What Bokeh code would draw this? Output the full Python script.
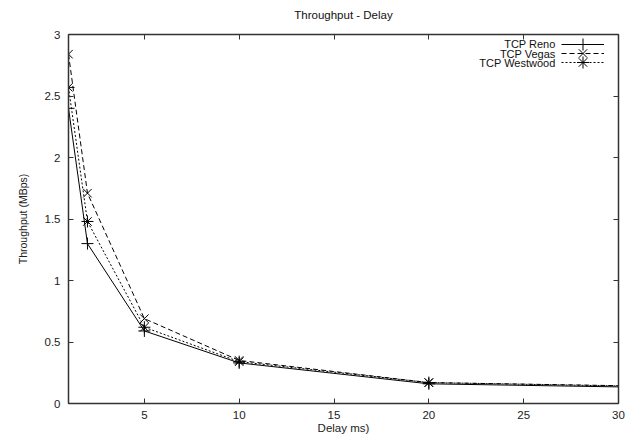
from bokeh.plotting import figure
from bokeh.models import (Range1d, FixedTicker, LinearAxis, Legend, LegendItem, Label)
from bokeh.embed import file_html
from bokeh.resources import INLINE

# ---- data ----
delay = [1, 2, 5, 10, 20, 40]
reno = [2.40, 1.30, 0.59, 0.33, 0.16, 0.11]
vegas = [2.84, 1.71, 0.69, 0.35, 0.17, 0.12]
westwood = [2.57, 1.48, 0.62, 0.34, 0.17, 0.115]
series_names = ["TCP Reno", "TCP Vegas", "TCP Westwood"]
x_ticks = [5, 10, 15, 20, 25, 30]
y_ticks = [0, 0.5, 1, 1.5, 2, 2.5, 3]
y_tick_labels = ["0", "0.5", "1", "1.5", "2", "2.5", "3"]
title_text = "Throughput - Delay"

FONT = "Liberation Sans"
FS = "11.5px"

p = figure(width=629, height=440, output_backend="svg", toolbar_location=None,
           x_range=Range1d(1, 30), y_range=Range1d(0, 3),
           min_border_left=68, min_border_right=11, min_border_top=34, min_border_bottom=37,
           title=title_text)
p.title.align = "center"
p.title.text_font = FONT
p.title.text_font_size = FS
p.title.text_font_style = "normal"
p.title.text_color = "#111111"
p.grid.visible = False
p.outline_line_color = "#222222"
p.outline_line_width = 1
p.background_fill_color = "white"
p.border_fill_color = "white"

def style_axis(ax, labels=True):
    ax.axis_line_color = "#333333"
    ax.axis_line_width = 1.5
    ax.major_tick_in = 5
    ax.major_tick_out = 0
    ax.minor_tick_line_color = None
    ax.major_tick_line_color = "#333333"
    ax.major_label_text_font = FONT
    ax.major_label_text_font_size = FS
    ax.major_label_text_color = "#222222"
    if not labels:
        ax.major_label_text_color = None
        ax.major_label_standoff = 0

xa = p.xaxis[0]
xa.ticker = FixedTicker(ticks=x_ticks)
style_axis(xa)
xa.major_label_standoff = 7
xa.axis_label = "Delay ms)"
xa.axis_label_text_font = FONT
xa.axis_label_text_font_size = FS
xa.axis_label_text_font_style = "normal"
xa.axis_label_standoff = 0
xa.axis_label_text_color = "#222222"

ya = p.yaxis[0]
ya.ticker = FixedTicker(ticks=y_ticks)
ya.major_label_overrides = {t: l for t, l in zip(y_ticks, y_tick_labels)}
style_axis(ya)
ya.major_label_standoff = 8
ya.axis_label = "Throughput (MBps)"
ya.axis_label_text_font = FONT
ya.axis_label_text_font_size = "10.5px"
ya.axis_label_text_font_style = "normal"
ya.axis_label_standoff = 13
ya.axis_label_text_color = "#222222"

top = LinearAxis(ticker=FixedTicker(ticks=x_ticks),
                 major_label_overrides={t: "" for t in x_ticks})
style_axis(top, labels=False)
p.add_layout(top, "above")
# invisible spacer axis that lifts the title a few pixels
spacer = LinearAxis(ticker=FixedTicker(ticks=x_ticks),
                    major_label_overrides={t: "" for t in x_ticks},
                    axis_line_color=None, major_tick_line_color=None,
                    minor_tick_line_color=None, major_label_text_color=None,
                    major_tick_in=0, major_tick_out=9, major_label_standoff=0)
p.add_layout(spacer, "above")
right = LinearAxis(ticker=FixedTicker(ticks=y_ticks),
                   major_label_overrides={t: "" for t in y_ticks})
style_axis(right, labels=False)
p.add_layout(right, "right")

styles = [
    (reno, "solid", "cross"),
    (vegas, "5 3", "x"),
    (westwood, "2 2", "asterisk"),
]
# legend sample rows: offsets (screen px) from the frame's bottom-left corner
legend_rows = [344, 335, 326]
for i, (vals, dash, marker) in enumerate(styles):
    l = p.line(delay, vals, line_color="black", line_width=1, line_dash=dash)
    s = p.scatter(delay, vals, marker=marker, size=12, line_color="black",
                  fill_color=None, line_width=1)
    leg = Legend(items=[LegendItem(label="", renderers=[l, s])],
                 location=(493, legend_rows[i]), glyph_width=43, glyph_height=30,
                 label_height=30, label_width=0, label_standoff=0, spacing=0,
                 padding=0, margin=0, border_line_color=None,
                 background_fill_alpha=0, label_text_color=None)
    p.add_layout(leg)

for i, name in enumerate(series_names):
    p.add_layout(Label(x=26.68, y=2.919 - i * 0.0735, text=name, text_align="right",
                       text_baseline="middle", text_font=FONT, text_font_size="11px",
                       text_color="#111111"))

open("out.html", "w").write(file_html(p, INLINE))
